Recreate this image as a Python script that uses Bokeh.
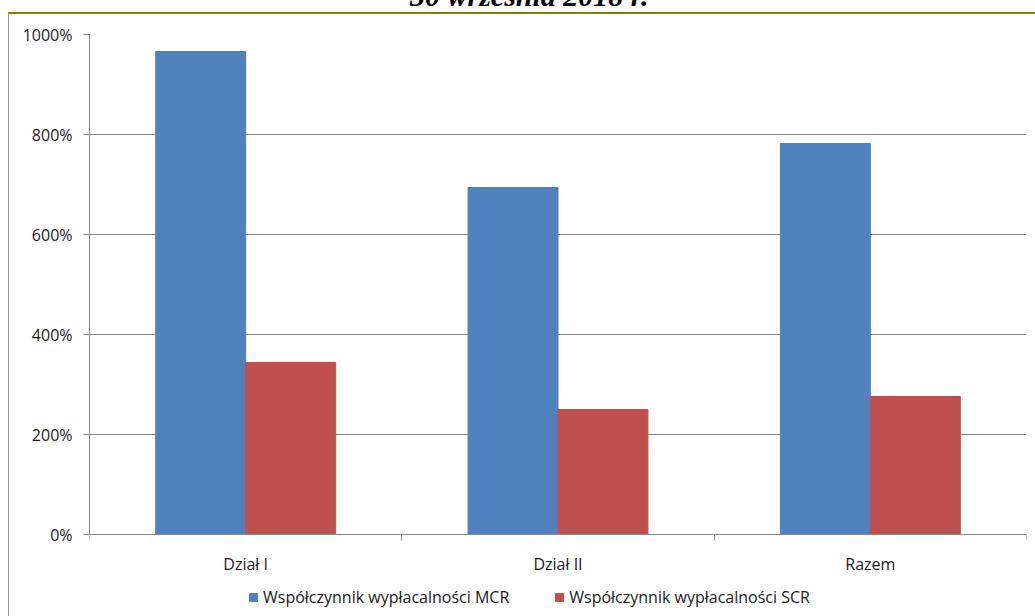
from bokeh.plotting import figure
from bokeh.models import (ColumnDataSource, FixedTicker, Legend, LegendItem, Div,
                          Range1d, InlineStyleSheet)
from bokeh.core.properties import value
from bokeh.layouts import column
from bokeh.embed import file_html
from bokeh.resources import INLINE

categories = ["Dział I", "Dział II", "Razem"]
mcr = [966, 694, 782]
scr = [344, 250, 276]
y_ticks = [0, 200, 400, 600, 800, 1000]
series_names = ["Współczynnik wypłacalności MCR", "Współczynnik wypłacalności SCR"]
title_text = "30 września 2018 r."

# frame extends below the zero line so the legend can sit inside it (0.5 px per unit)
y_top = 1000
y_bottom = y_top - 574 * 2
p = figure(frame_width=937, frame_height=574, output_backend="svg", toolbar_location=None,
           x_range=Range1d(0, len(categories)), y_range=Range1d(y_bottom, y_top),
           min_border_left=89, min_border_right=9, min_border_top=34, min_border_bottom=8)
p.outline_line_color = None
p.background_fill_color = "white"
p.border_fill_color = "white"

bw = 0.288
centers = [i + 0.5 for i in range(len(categories))]
src = ColumnDataSource(dict(xb=[c - bw / 2 for c in centers], xr=[c + bw / 2 for c in centers],
                            xc=centers, base=[0] * len(categories), cat=categories,
                            mcr=mcr, scr=scr))
r1 = p.vbar(x="xb", top="mcr", width=bw, source=src, fill_color="#4F81BD", line_color="#4F81BD")
r2 = p.vbar(x="xr", top="scr", width=bw, source=src, fill_color="#C0504D", line_color="#C0504D")

font = "Open Sans"
txt = "#1a1a1a"

# category labels under the zero line
p.text(x="xc", y="base", text="cat", source=src, y_offset=29, text_align="center",
       text_baseline="alphabetic", text_font=value(font), text_font_size="16px",
       text_color=txt)

xa = p.xaxis[0]
xa.fixed_location = 0
xa.ticker = FixedTicker(ticks=centers, minor_ticks=list(range(len(categories) + 1)))
xa.major_label_overrides = {c: "" for c in centers}
xa.major_label_text_font_size = "1px"
xa.major_label_standoff = 0
xa.major_tick_in = 0
xa.major_tick_out = 0
xa.minor_tick_in = 0
xa.minor_tick_out = 6
xa.minor_tick_line_color = "#868686"
xa.axis_line_color = "#868686"

ya = p.yaxis[0]
ya.bounds = (0, y_top)
ya.ticker = FixedTicker(ticks=y_ticks)
ya.major_label_overrides = {t: f"{t}%" for t in y_ticks}
ya.major_tick_in = 0
ya.major_tick_out = 6
ya.minor_tick_line_color = None
ya.axis_line_color = "#868686"
ya.major_tick_line_color = "#868686"
ya.major_label_text_font = font
ya.major_label_text_font_size = "16px"
ya.major_label_text_color = txt
ya.major_label_standoff = 11

p.xgrid.grid_line_color = None
p.ygrid.grid_line_color = "#868686"
p.ygrid.ticker = FixedTicker(ticks=y_ticks)

legend = Legend(items=[LegendItem(label=series_names[0], renderers=[r1]),
                       LegendItem(label=series_names[1], renderers=[r2])],
                orientation="horizontal", border_line_color=None, background_fill_alpha=0,
                label_text_font=font, label_text_font_size="16px",
                label_text_color=txt, glyph_width=10, glyph_height=10,
                spacing=45, padding=0, margin=0, label_standoff=5, location=(159, 0))
p.add_layout(legend, "center")

p.stylesheets = [InlineStyleSheet(css=(
    ":host::after { content: ''; position: absolute; left: 8px; top: 12px; "
    "width: 1027px; height: 604px; border-left: 1px solid #9a9a9a; "
    "border-top: 2px solid #808000; box-sizing: border-box; pointer-events: none; }"))]

title = Div(text=f'<span style="font-family: \'Liberation Serif\'; font-size: 30px; '
                 f'line-height: 30px; font-weight: bold; font-style: italic; color: black; '
                 f'white-space: nowrap;">{title_text}</span>')
title.stylesheets = [InlineStyleSheet(css=(
    ":host { position: absolute !important; left: 410px !important; top: -19px !important; "
    "width: auto !important; height: auto !important; z-index: 10; margin: 0 !important; }"))]

layout = column(p, title)
open("out.html", "w").write(file_html(layout, INLINE))
